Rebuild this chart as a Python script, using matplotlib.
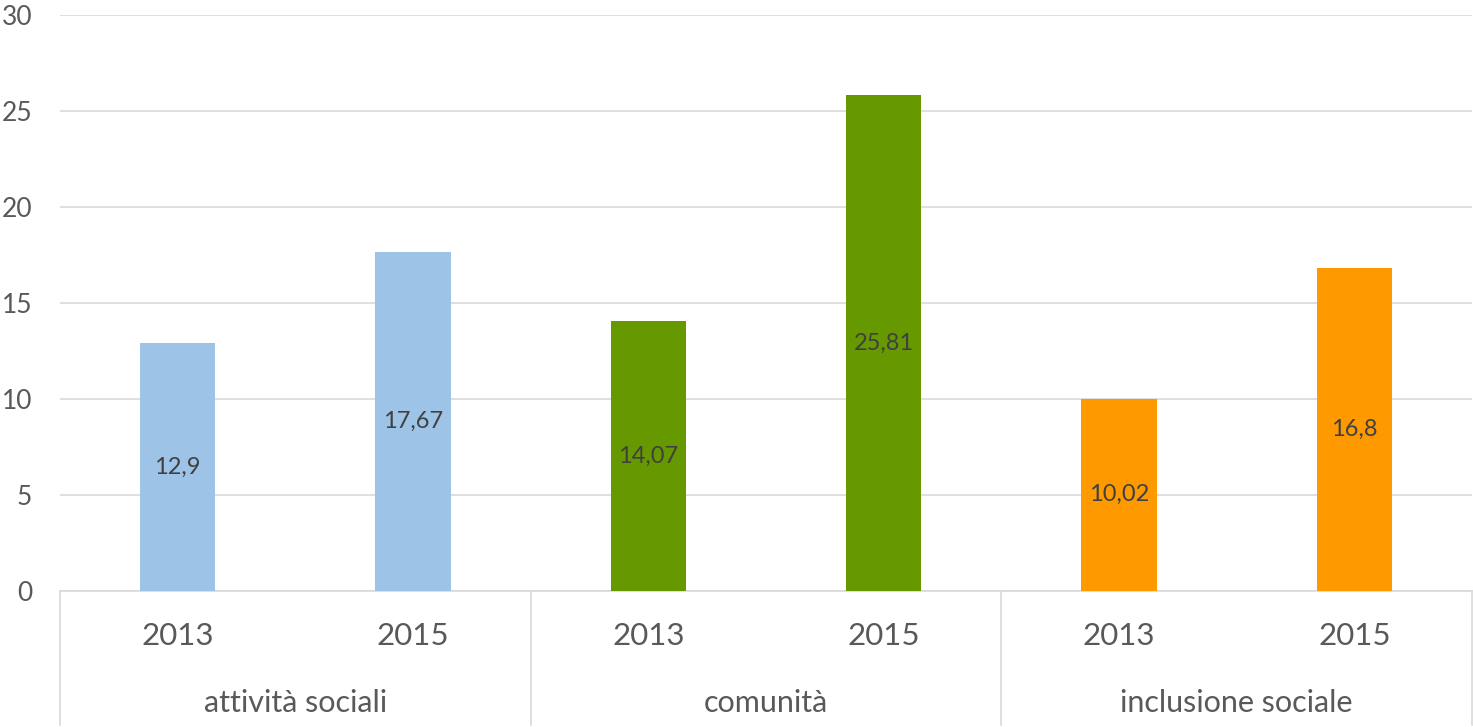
import matplotlib.pyplot as plt
from matplotlib.transforms import blended_transform_factory

# data
groups = ['attività sociali', 'comunità', 'inclusione sociale']
years = ['2013', '2015']
values = [12.9, 17.67, 14.07, 25.81, 10.02, 16.8]
value_labels = ['12,9', '17,67', '14,07', '25,81', '10,02', '16,8']
group_colors = ['#9DC3E6', '#669900', '#FF9900']

plt.rcParams['font.family'] = ['Lato', 'DejaVu Sans']

fig = plt.figure(figsize=(14.73, 7.27), dpi=100)
ax = fig.add_axes([60 / 1473, 1 - 591 / 727, 1412 / 1473, 576 / 727])

n_years = len(years)
positions = list(range(len(values)))
colors = [group_colors[i // n_years] for i in positions]

ax.bar(positions, values, width=0.32, color=colors, zorder=3)

# data labels in the middle of each bar
for x, v, lab in zip(positions, values, value_labels):
    ax.text(x, v / 2, lab, ha='center', va='center', fontsize=17, color='#404040', zorder=4)

ax.set_xlim(-0.5, len(values) - 0.5)
ax.set_ylim(0, 30)
ax.set_yticks(range(0, 31, 5))
ax.tick_params(axis='y', length=0, pad=20, labelsize=19, labelcolor='#595959')
ax.set_xticks([])
ax.grid(axis='y', color='#D9D9D9', linewidth=1.2, zorder=0)
for side in ['top', 'right', 'left']:
    ax.spines[side].set_visible(False)
ax.spines['bottom'].set_color('#D9D9D9')
ax.spines['bottom'].set_linewidth(1.2)

# two-level category axis
trans = blended_transform_factory(ax.transData, ax.transAxes)
for x in positions:
    ax.text(x, -0.078, years[x % n_years], transform=trans, ha='center', va='center',
            fontsize=22.5, color='#595959')
for g, name in enumerate(groups):
    center = g * n_years + (n_years - 1) / 2
    ax.text(center, -0.194, name, transform=trans, ha='center', va='center',
            fontsize=22, color='#595959')
for g in range(len(groups) + 1):
    sep = g * n_years - 0.5
    ax.plot([sep, sep], [0, -0.233], transform=trans, color='#D9D9D9',
            linewidth=1.2, clip_on=False)

fig.savefig('out.png', dpi=100)
